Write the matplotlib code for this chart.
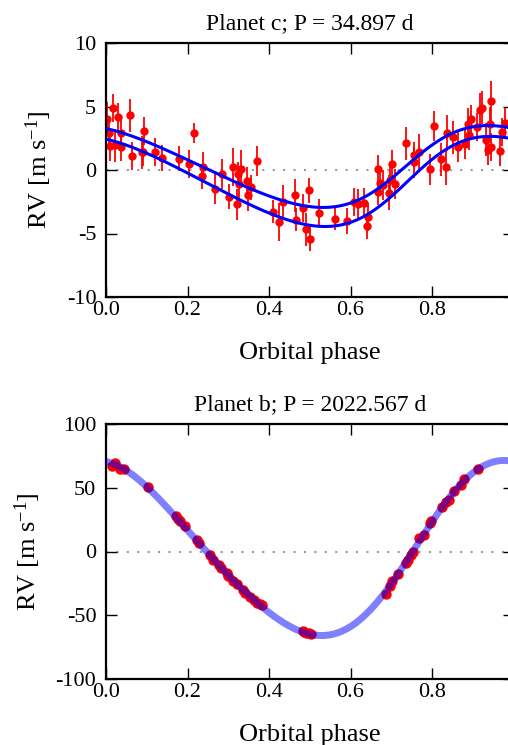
import numpy as np
import matplotlib
matplotlib.use("Agg")
import matplotlib.pyplot as plt

plt.rcParams['font.family'] = ['Liberation Serif', 'DejaVu Serif']
plt.rcParams['mathtext.fontset'] = 'custom'
plt.rcParams['mathtext.rm'] = 'Liberation Serif'
plt.rcParams['mathtext.it'] = 'Liberation Serif:italic'
plt.rcParams['axes.unicode_minus'] = False

# ---------------- Planet c data (phase, RV, error) ----------------
phase_c = [0.003, 0.007, 0.016, 0.010, 0.022, 0.030, 0.036, 0.038, 0.059, 0.063,
           0.088, 0.092, 0.094, 0.120, 0.137, 0.178, 0.204, 0.216, 0.237, 0.235,
           0.267, 0.284, 0.302, 0.311, 0.321, 0.323, 0.327, 0.331, 0.345, 0.349,
           0.357, 0.371, 0.411, 0.425, 0.435, 0.464, 0.466, 0.484, 0.492, 0.497,
           0.501, 0.523, 0.562, 0.592, 0.609, 0.619, 0.634, 0.640, 0.644, 0.667,
           0.667, 0.672, 0.680, 0.695, 0.697, 0.703, 0.709, 0.737, 0.757, 0.756,
           0.767, 0.795, 0.805, 0.821, 0.834, 0.836, 0.852, 0.865, 0.881, 0.891,
           0.889, 0.895, 0.910, 0.919, 0.923, 0.932, 0.938, 0.942, 0.946, 0.946,
           0.967, 0.973, 0.979]
rv_c = [4.05, 2.9, 4.9, 1.9, 1.95, 4.2, 2.9, 1.8, 4.3, 1.1,
        1.4, 1.4, 3.1, 1.4, 0.95, 0.9, 0.45, 2.9, 0.2, -0.5,
        -1.5, -0.3, -2.1, 0.26, -2.7, -0.34, -1.1, 0.08, -0.9, -2.0,
        -1.36, 0.7, -3.3, -4.1, -2.5, -2.0, -3.9, -3.0, -4.65, -1.6,
        -5.4, -3.4, -3.85, -4.0, -2.5, -2.7, -2.6, -4.4, -3.7, 0.08,
        -1.75, -1.05, -1.18, -1.78, -0.8, 0.5, -1.1, 2.1, 1.2, 0.6,
        1.4, 0.05, 3.45, 0.84, 0.2, 2.9, 2.56, 1.83, 2.04, 2.75,
        3.66, 4.0, 3.35, 4.76, 4.9, 2.4, 1.57, 3.66, 5.44, 1.83,
        1.5, 3.0, 3.7]
err_c = [1.3, 1.2, 1.1, 1.2, 1.3, 1.1, 1.3, 1.1, 1.3, 1.1,
         1.3, 1.1, 1.1, 1.1, 1.0, 1.0, 1.1, 0.8, 1.2, 1.0,
         1.2, 1.2, 1.0, 1.5, 1.2, 1.0, 1.2, 1.5, 1.1, 1.2,
         1.0, 1.2, 0.9, 1.5, 1.3, 1.3, 0.9, 1.1, 1.3, 1.0,
         1.0, 1.1, 0.9, 1.0, 1.1, 1.2, 1.2, 1.0, 1.1, 1.1,
         1.0, 1.0, 1.2, 1.4, 1.2, 1.1, 1.2, 1.3, 1.0, 1.2,
         1.4, 1.2, 1.2, 1.3, 1.4, 1.4, 1.3, 1.2, 1.2, 1.2,
         1.2, 1.1, 1.1, 1.3, 1.3, 1.3, 1.2, 1.3, 1.6, 1.1,
         1.2, 1.1, 1.2]

# Keplerian model parameters for the two planet-c curves
model_c_upper = dict(K=3.225, e=0.15, omega=270.0, tp=0.735, offset=0.275)
model_c_lower = dict(K=3.55, e=0.15, omega=270.0, tp=0.74, offset=-0.9)

# ---------------- Planet b data ----------------
phase_b = [0.014, 0.022, 0.034, 0.044, 0.104, 0.172, 0.177, 0.182, 0.194, 0.223,
           0.227, 0.255, 0.263, 0.278, 0.281, 0.296, 0.300, 0.312, 0.322, 0.337,
           0.341, 0.353, 0.363, 0.370, 0.378, 0.382, 0.484, 0.486, 0.492, 0.497,
           0.503, 0.687, 0.697, 0.703, 0.716, 0.736, 0.742, 0.748, 0.753, 0.768,
           0.780, 0.795, 0.798, 0.825, 0.834, 0.842, 0.854, 0.871, 0.879, 0.914]
rv_b = [67.2, 69.3, 64.6, 64.6, 50.3, 27.6, 25.5, 23.7, 19.8, 9.4,
        6.8, -3.1, -6.8, -10.9, -12.8, -17.2, -19.3, -23.2, -25.8, -30.2,
        -32.3, -35.7, -38.3, -40.1, -41.4, -42.2, -62.2, -63.5, -64.3, -64.0,
        -64.8, -33.6, -27.1, -23.2, -18.0, -9.4, -6.3, -2.9, -0.5, 10.4,
        12.7, 22.4, 23.7, 34.9, 38.8, 40.6, 47.7, 52.3, 56.8, 64.8]

xticks = [0.0, 0.2, 0.4, 0.6, 0.8]
yticks_c = [-10, -5, 0, 5, 10]
yticks_b = [-100, -50, 0, 50, 100]


def kepler_rv(phase, K, e, omega, tp, offset):
    M = 2 * np.pi * (np.asarray(phase) - tp)
    E = M.copy()
    for _ in range(60):
        E = E - (E - e * np.sin(E) - M) / (1 - e * np.cos(E))
    nu = 2 * np.arctan2(np.sqrt(1 + e) * np.sin(E / 2), np.sqrt(1 - e) * np.cos(E / 2))
    w = np.radians(omega)
    return offset + K * (np.cos(nu + w) + e * np.cos(w))


W, H = 508, 745
fig = plt.figure(figsize=(W / 100, H / 100), dpi=100)


def pos(l, t, r, b):
    return [l / W, 1 - b / H, (r - l) / W, (b - t) / H]


ax1 = fig.add_axes(pos(106, 43, 513.5, 297))
ax2 = fig.add_axes(pos(106, 424, 513.5, 679))

grid = np.linspace(0, 1, 500)

# Top panel
ax1.axhline(0, color='#999999', ls=(0, (1, 4)), lw=1.5, zorder=1)
ax1.errorbar(phase_c, rv_c, yerr=err_c, fmt='o', color='red', ms=5,
             elinewidth=1.3, capsize=0, zorder=2)
ax1.plot(grid, kepler_rv(grid, **model_c_upper), color='blue', lw=2.2, zorder=3)
ax1.plot(grid, kepler_rv(grid, **model_c_lower), color='blue', lw=2.2, zorder=3)
ax1.set_xlim(0, 1)
ax1.set_ylim(-10, 10)
ax1.set_yticks(yticks_c)
ax1.set_title('Planet c; P = 34.897 d', fontsize=17, pad=10)

# Bottom panel: harmonic fit to the data
pb = np.array(phase_b)
A = np.column_stack([np.ones_like(pb), np.cos(2 * np.pi * pb), np.sin(2 * np.pi * pb),
                     np.cos(4 * np.pi * pb), np.sin(4 * np.pi * pb)])
coef, *_ = np.linalg.lstsq(A, np.array(rv_b), rcond=None)
G = np.column_stack([np.ones_like(grid), np.cos(2 * np.pi * grid), np.sin(2 * np.pi * grid),
                     np.cos(4 * np.pi * grid), np.sin(4 * np.pi * grid)])
ax2.axhline(0, color='#999999', ls=(0, (1, 4)), lw=1.5, zorder=1)
ax2.plot(phase_b, rv_b, 'o', color='red', ms=6.5, zorder=2)
ax2.plot(grid, G @ coef, color='blue', lw=5, alpha=0.5, zorder=3)
ax2.set_xlim(0, 1)
ax2.set_ylim(-100, 100)
ax2.set_yticks(yticks_b)
ax2.set_title('Planet b; P = 2022.567 d', fontsize=17, pad=10)

for ax in (ax1, ax2):
    ax.set_xticks(xticks)
    ax.set_xticklabels([f'{t:.1f}' for t in xticks])
    ax.tick_params(direction='in', top=True, right=True, length=8, width=1,
                   labelsize=16)
    ax.tick_params(axis='y', pad=7)
    ax.tick_params(axis='x', pad=3)
    for s in ax.spines.values():
        s.set_linewidth(1.6)
    ax.set_xlabel('Orbital phase', fontsize=19, labelpad=16)
    ax.set_ylabel(r'RV [m s$^{-1}$]', fontsize=19, labelpad=9)

fig.savefig('out.png', dpi=100)
